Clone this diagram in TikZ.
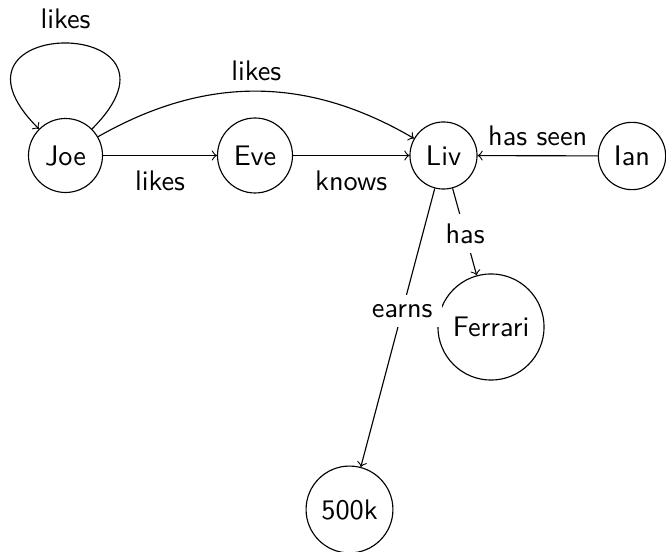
\documentclass[tikz,border=0pt]{standalone}
\begin{document}
\begin{tikzpicture}[
  x=0.3534pt, y=-0.3534pt,
  every node/.style={font=\sffamily},
  entity/.style={draw, circle},
  rel/.style={->},
  onedge/.style={fill=white}
]
\useasboundingbox (0,0) rectangle (666,552);

% people and things
\node[entity, minimum size=26.15pt] (joe)     at (65.5,155.5) {Joe};
\node[entity, minimum size=26.5pt]  (eve)     at (255,155.5)  {Eve};
\node[entity, minimum size=23.7pt]  (liv)     at (443.5,155.5) {Liv};
\node[entity, minimum size=23.3pt]  (ian)     at (632,156)    {Ian};
\node[entity, minimum size=37.5pt]  (ferrari) at (491,327)    {Ferrari};
\node[entity, minimum size=30.7pt]  (cash)    at (349.5,509.5) {500k};

% relations
\draw[rel] (joe) to[out=45, in=135, distance=57.2pt] node[above=1.6pt] {likes} (joe);
\draw[rel] (joe) to[bend left=30] node[above] {likes} (liv);
\draw[rel] (joe) -- node[below=1.8pt] {likes} (eve);
\draw[rel] (eve) -- node[below=1.8pt] {knows} (liv);
\draw[rel] (ian) -- node[above] {has seen} (liv);
\draw[rel] (liv) -- node[onedge, pos=.52] {has} (ferrari);
\draw[rel] (liv) -- node[onedge, pos=.44] {earns} (cash);
\end{tikzpicture}
\end{document}
